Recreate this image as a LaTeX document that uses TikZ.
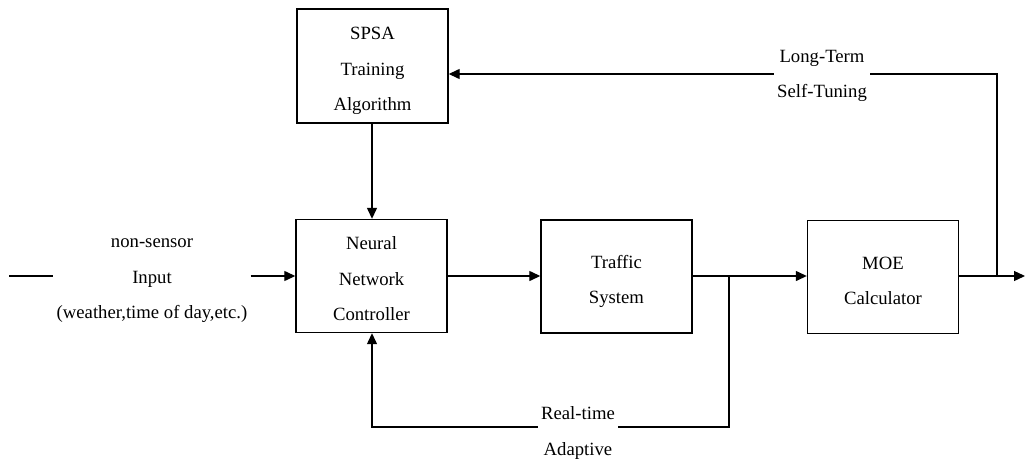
\documentclass[tikz,border=0pt]{standalone}
\usepackage{fontspec}
\setmainfont{Liberation Serif}
\usetikzlibrary{arrows.meta}
\begin{document}
\begin{tikzpicture}[x=1pt,y=-1pt,
  txt/.style={font=\fontsize{18.7}{35.5}\selectfont, align=center},
  blk/.style={draw, line width=1.4pt, minimum width=151pt, minimum height=113pt, inner sep=0pt},
  conn/.style={line width=1.3pt},
  arr/.style={conn, -{Triangle[length=11pt,width=10pt]}},
  lbl/.style={txt, fill=white, inner sep=3pt}]
\useasboundingbox (0,0) rectangle (1025,458);
% blocks
\node[blk, minimum height=114pt] (spsa) at (372.5,66) {};
\node[txt] (spsat) at ([yshift=-5pt]spsa.center) {SPSA\\Training\\Algorithm};
\node[blk] (nn) at (371.5,276) {};
\node[txt] (nnt) at ([yshift=-3pt]nn.center) {Neural\\Network\\Controller};
\node[blk] (ts) at (616.5,276.5) {};
\node[txt] (tst) at ([yshift=-5pt]ts.center) {Traffic\\System};
\node[blk] (moe) at (883,277) {};
\node[txt] (moet) at ([yshift=-4pt]moe.center) {MOE\\Calculator};
% input
\coordinate (start) at (9,276);
\node[txt, inner sep=3pt] (inp) at (152,281) {non-sensor\\Input\\(weather,time of day,etc.)};
\draw[conn] (start) -- (start -| inp.west) coordinate (startend);
\draw[arr] (inp.east |- nn.west) -- (nn.west);
% forward path
\draw[arr] (spsa.south -| 372,0) -- (nn.north -| 372,0);
\draw[arr] (nn.east) -- (ts.west |- nn.east);
\coordinate (b1) at (729,276);
\coordinate (b2) at (997,276);
\coordinate (outend) at (1025,276);
\draw[arr] (ts.east |- b1) -- (moe.west |- b1);
\draw[arr] (moe.east |- b2) -- (outend);
% long-term feedback
\coordinate (lt) at (997,74);
\draw[arr] (b2) -- (lt) -- (spsa.east |- lt);
\node[lbl] (ltl) at (822,76) {Long-Term\\Self-Tuning};
% real-time feedback
\coordinate (rt1) at (729,427);
\coordinate (rt2) at (372,427);
\draw[arr] (b1) -- (rt1) -- (rt2) -- (nn.south -| rt2);
\node[lbl] (rtl) at (578,433) {Real-time\\Adaptive};
\end{tikzpicture}
\end{document}
